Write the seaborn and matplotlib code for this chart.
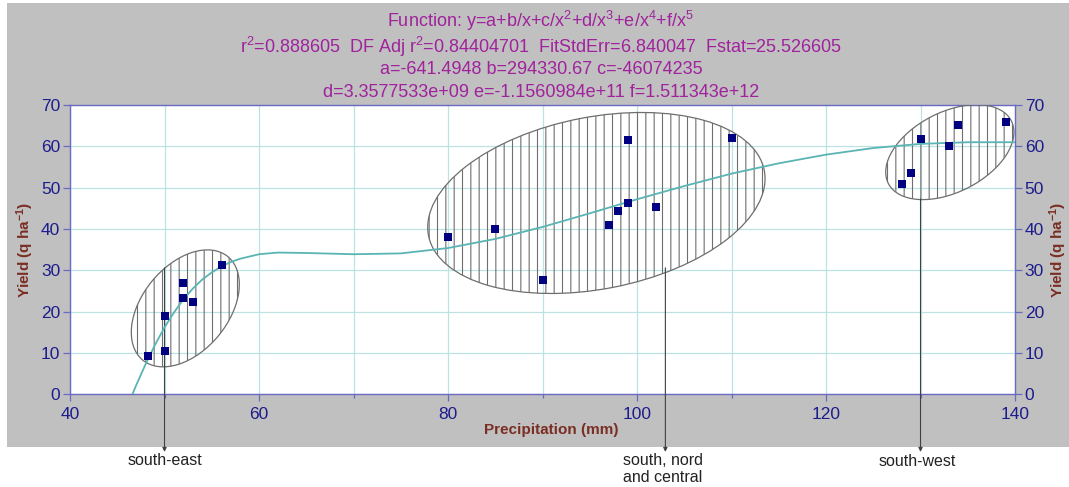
import matplotlib
matplotlib.use('Agg')
import matplotlib.pyplot as plt
import matplotlib.transforms as mtrans
from matplotlib.patches import Ellipse, Rectangle
from matplotlib.ticker import MultipleLocator
import seaborn as sns

# measured points (precipitation mm, yield q/ha)
precip = [48.2, 50, 50, 52, 52, 53, 56.1, 80, 85, 90, 97, 98, 99, 99, 102, 110,
          128, 129, 130, 133, 134, 139]
yields = [9.3, 10.5, 18.9, 26.9, 23.2, 22.4, 31.4, 38.0, 40.0, 27.7, 40.9, 44.4,
          46.3, 61.5, 45.4, 62.1, 51.0, 53.5, 61.9, 60.1, 65.1, 65.9]

# fitted curve
curve_x = [46.6, 47, 48, 49, 50, 51, 52, 53, 54, 55, 56, 57, 58, 60, 62, 65, 70,
           75, 80, 85, 90, 95, 100, 105, 110, 115, 120, 125, 130, 135, 140]
curve_y = [0.0, 2.2, 7.3, 12.0, 16.2, 19.8, 23.0, 25.6, 27.8, 29.5, 30.9, 32.0,
           32.8, 33.9, 34.3, 34.2, 33.9, 34.1, 35.4, 37.6, 40.5, 43.8, 47.2,
           50.4, 53.4, 55.9, 58.0, 59.6, 60.6, 61.0, 61.0]

title_lines = [
    "Function: y=a+b/x+c/x$^2$+d/x$^3$+e/x$^4$+f/x$^5$",
    "r$^2$=0.888605  DF Adj r$^2$=0.84404701  FitStdErr=6.840047  Fstat=25.526605",
    "a=-641.4948 b=294330.67 c=-46074235",
    "d=3.3577533e+09 e=-1.1560984e+11 f=1.511343e+12",
]

# regions: name, arrow x, ellipse centre (x, y)
regions = ["south-east", "south, nord\nand central", "south-west"]
arrow_x = [50, 103, 130]
centre_x = [52.2, 95.7, 133.1]
centre_y = [20.8, 46.3, 58.6]

sns.set_theme(style='white')
plt.rcParams['font.family'] = ['Liberation Sans', 'DejaVu Sans']
plt.rcParams['mathtext.fontset'] = 'custom'
plt.rcParams['mathtext.rm'] = 'Liberation Sans'
plt.rcParams['mathtext.default'] = 'regular'
plt.rcParams['hatch.color'] = '#7a7a7a'
plt.rcParams['hatch.linewidth'] = 0.8

purple = '#a0229c'
brown = '#7a2e24'
navy = '#1c1c8c'
spine_c = '#6a6ac4'
grid_c = '#bde2e2'

fig = plt.figure(figsize=(10.69, 4.87), dpi=100)
fig.patch.set_facecolor('white')
fig.add_artist(Rectangle((0.0065, 0.082), 0.9935, 0.912, transform=fig.transFigure,
                         facecolor='#c0c0c0', edgecolor='none', zorder=-5))

ax = fig.add_axes([0.0655, 0.1903, 0.884, 0.594])
ax.set_facecolor('white')

# ellipses round the three groups (size in inches, angle in degrees)
ell_w = [1.34, 3.42, 1.38]
ell_h = [0.86, 1.72, 0.80]
ell_a = [50.5, 11, 27]
for cx, cy, w, h, a in zip(centre_x, centre_y, ell_w, ell_h, ell_a):
    tr = fig.dpi_scale_trans + mtrans.ScaledTranslation(cx, cy, ax.transData)
    e = Ellipse((0, 0), w, h, angle=a, transform=tr, facecolor='none',
                edgecolor='#6e6e6e', lw=0.9, hatch='||', zorder=3)
    ax.add_patch(e)

sns.lineplot(x=curve_x, y=curve_y, ax=ax, color='#5ab4b4', lw=1.3, sort=False, zorder=4)
sns.scatterplot(x=precip, y=yields, ax=ax, marker='s', s=30, color='#000080',
                linewidth=0, zorder=5)

ax.set_xlim(40, 140)
ax.set_ylim(0, 70)
ax.xaxis.set_major_locator(MultipleLocator(20))
ax.xaxis.set_minor_locator(MultipleLocator(10))
ax.yaxis.set_major_locator(MultipleLocator(10))
ax.grid(True, which='both', axis='x', color=grid_c, lw=0.9)
ax.grid(True, which='major', axis='y', color=grid_c, lw=0.9)
ax.set_axisbelow(True)
for s in ax.spines.values():
    s.set_color(spine_c)
    s.set_linewidth(1.0)

ax.tick_params(axis='both', which='both', direction='out', color=spine_c, width=0.9,
               labelcolor=navy, labelsize=12.5)
ax.tick_params(axis='x', which='major', bottom=True, length=5, pad=4)
ax.tick_params(axis='x', which='minor', bottom=True, length=3)
ax.tick_params(axis='y', which='major', left=True, right=True, labelleft=True,
               labelright=True, length=5, pad=2)

ax.set_xlabel('Precipitation (mm)', fontsize=11, fontweight='bold', color=brown)
ax.xaxis.set_label_coords(0.509, -0.123)
ax.xaxis.label.set_va('center')
ax.set_ylabel('Yield (q ha$^{-1}$)', fontsize=11, fontweight='bold', color=brown)
ax.yaxis.set_label_coords(-0.0476, 0.5)
ax.yaxis.label.set_va('center')
ax.text(1.0455, 0.5, 'Yield (q ha$^{-1}$)', transform=ax.transAxes, rotation=90,
        ha='center', va='center', fontsize=11, fontweight='bold', color=brown)

for line, yb in zip(title_lines, [0.9439, 0.8906, 0.848, 0.8014]):
    fig.text(0.506, yb, line, ha='center', va='baseline', fontsize=13, color=purple)

# arrows down to region names
start_y = [30.6, 30.6, 47.3]
for xa, ys in zip(arrow_x, start_y):
    ax.annotate('', xy=(xa, 0.072), xycoords=('data', 'figure fraction'),
                xytext=(xa, ys), textcoords='data', annotation_clip=False,
                arrowprops=dict(arrowstyle='-|>', color='#404040', lw=0.8,
                                mutation_scale=6, shrinkA=0, shrinkB=0))

ax.annotate(regions[0], xy=(50, 0.055), xycoords=('data', 'figure fraction'),
            ha='center', va='center', fontsize=11.5, color='#222222', annotation_clip=False)
ax.annotate(regions[1], xy=(98.5, 0.037), xycoords=('data', 'figure fraction'),
            ha='left', va='center', fontsize=11.5, color='#222222', annotation_clip=False)
ax.annotate(regions[2], xy=(129.7, 0.052), xycoords=('data', 'figure fraction'),
            ha='center', va='center', fontsize=11.5, color='#222222', annotation_clip=False)

fig.savefig('out.png', dpi=100)
